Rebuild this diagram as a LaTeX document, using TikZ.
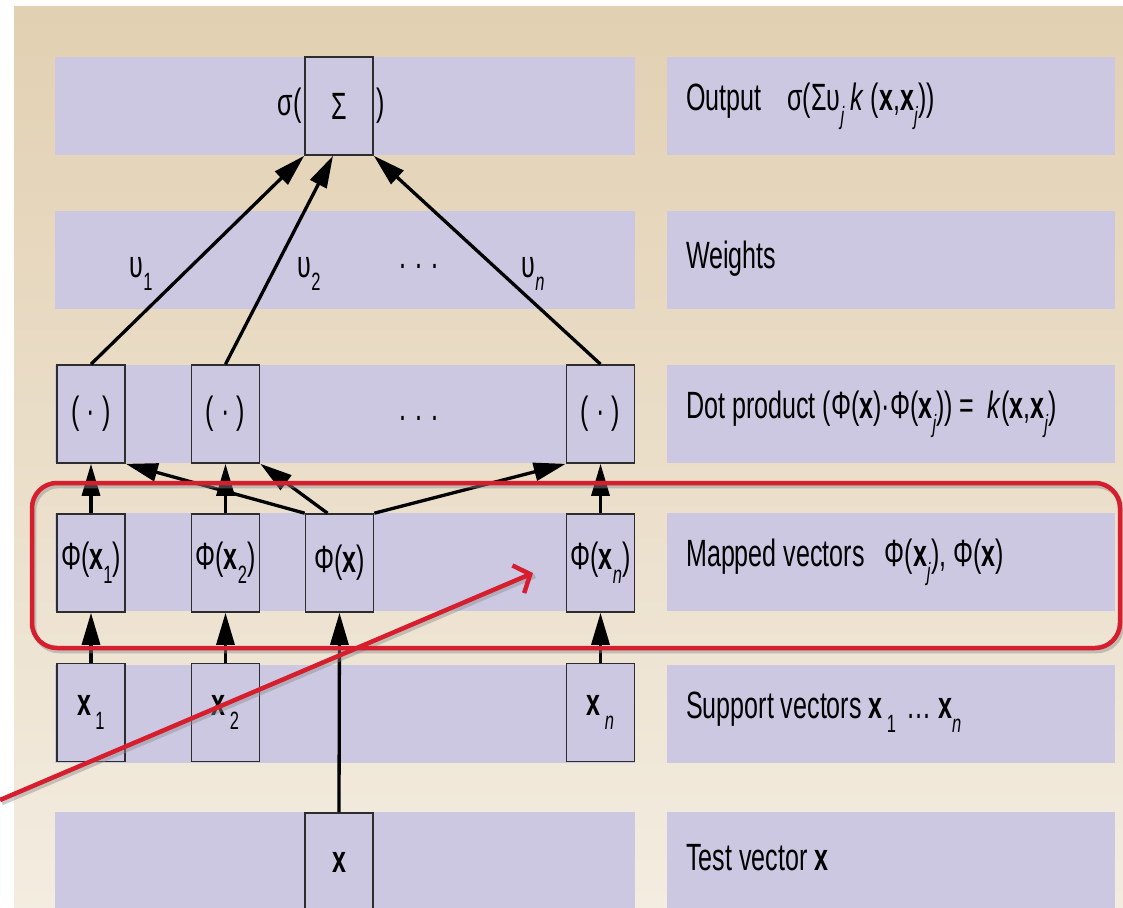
\documentclass[tikz,border=0pt]{standalone}
\usepackage{fontspec}
\setmainfont[FakeStretch=0.66]{Liberation Sans}
\usetikzlibrary{arrows.meta}
\definecolor{band}{RGB}{204,200,226}
\definecolor{sandtop}{RGB}{226,208,178}
\definecolor{sandbot}{RGB}{243,236,224}
\definecolor{frame}{RGB}{45,45,45}
\definecolor{mark}{RGB}{214,30,46}
\newcommand{\lowidx}[1]{\raisebox{-0.36em}{\fontsize{25}{25}\selectfont #1}}
\tikzset{
  unit/.style={draw=frame, fill=band, line width=1.6pt, minimum width=68pt,
    minimum height=98pt, inner sep=0pt},
  strip/.style={fill=band, draw=none},
  feed/.style={line width=3.3pt, draw=black, -{Triangle[length=32pt,width=18pt]}},
  caption/.style={anchor=west, inner sep=0pt},
  hilite/.style={draw=mark, line width=4.5pt},
  hiliteshadow/.style={draw=black!45, opacity=0.45, line width=4.5pt},
}
\begin{document}
\begin{tikzpicture}[x=1pt, y=-1pt, font=\fontsize{38}{42}\selectfont]
\useasboundingbox (0,0) rectangle (1123,907);
% page ground
\shade[top color=sandtop, bottom color=sandbot] (14,7) rectangle (1123,907);

% layer strips: left (network) and right (description)
\foreach \t in {57,211,365,513,665,812} {
  \fill[strip] (55,\t) rectangle (635,\t+98);
  \fill[strip] (667,\t) rectangle (1115,\t+98);
}

% network units
\node[unit] (sig) at (339,106) {Σ};
\node[anchor=east, inner sep=0pt] (sigl) at (302,106) {σ(};
\node[anchor=west, inner sep=0pt] (sigr) at (376,106) {)};

\node[unit] (d1) at (91,414)    {(\hspace{7pt}·\hspace{7pt})};
\node[unit] (d2) at (225.5,414) {(\hspace{7pt}·\hspace{7pt})};
\node[unit] (dn) at (600.5,414) {(\hspace{7pt}·\hspace{7pt})};
\node (ddots) at (419,418) {. . .};

\node[unit] (p1) at (91,563)    {Φ(\textbf{x}\lowidx{1})};
\node[unit] (p2) at (225.5,563) {Φ(\textbf{x}\lowidx{2})};
\node[unit] (px) at (339.5,563) {Φ(\textbf{x})};
\node[unit] (pn) at (600.5,563) {Φ(\textbf{x}\lowidx{\textit{n}})};

\node[unit] (s1) at (91,712.5)    {\textbf{x}\lowidx{\,1}};
\node[unit] (s2) at (225.5,712.5) {\textbf{x}\lowidx{\,2}};
\node[unit] (sn) at (600.5,712.5) {\textbf{x}\lowidx{\,\textit{n}}};

\node[unit] (t) at (339,862) {\textbf{x}};

% weights
\node (w1) at (141,274) {υ\lowidx{1}};
\node (w2) at (309,274) {υ\lowidx{2}};
\node (wdots) at (419,266) {. . .};
\node (wn) at (533,274) {υ\lowidx{\textit{n}}};

% connections
\draw[feed] (d1.north) -- (sig.south west);
\draw[feed] (d2.north) -- ([xshift=-6pt]sig.south);
\draw[feed] (dn.north) -- (sig.south east);

\draw[feed] (p1.north) -- (d1.south);
\draw[feed] (p2.north) -- (d2.south);
\draw[feed] (pn.north) -- (dn.south);
\draw[feed] (px.north west) -- (d1.south east);
\draw[feed] ([xshift=-12pt]px.north) -- (d2.south east);
\draw[feed] (px.north east) -- (dn.south west);

\draw[feed] (s1.north) -- (p1.south);
\draw[feed] (s2.north) -- (p2.south);
\draw[feed] (sn.north) -- (pn.south);
\draw[feed] (t.north) -- (px.south);

% layer descriptions
\node[caption] (c1) at (686,106) {Output\hspace{26pt}σ(Συ\lowidx{\textit{j}}\,\textit{k}\,(\textbf{x},\textbf{x}\lowidx{\textit{j}}))};
\node[caption] (c2) at (686,259) {Weights};
\node[caption] (c3) at (686,414) {Dot product (Φ(\textbf{x})·Φ(\textbf{x}\lowidx{\textit{j}}))\,=\, \textit{k}(\textbf{x},\textbf{x}\lowidx{\textit{j}})};
\node[caption] (c4) at (686,562) {Mapped vectors\hspace{20pt}Φ(\textbf{x}\lowidx{\textit{j}}), Φ(\textbf{x})};
\node[caption] (c5) at (686,712) {Support vectors \textbf{x}\lowidx{\,1}\hspace{10pt}… \textbf{x}\lowidx{\textit{n}}};
\node[caption] (c6) at (686,858) {Test vector \textbf{x}};

% highlight frame and pointer
\coordinate (tail) at (0,800);
\coordinate (tip) at (533,573);
\draw[hiliteshadow, rounded corners=25pt] (34,486) rectangle (1122,651);
\draw[hiliteshadow] ([shift={(2pt,-3pt)}]tail) -- ([shift={(2pt,-3pt)}]tip);
\draw[hilite, rounded corners=25pt] (32,483) rectangle (1120,648);
\draw[hilite, -{Straight Barb[length=13pt,width=30pt]}] (tail) -- (tip);
\end{tikzpicture}
\end{document}
